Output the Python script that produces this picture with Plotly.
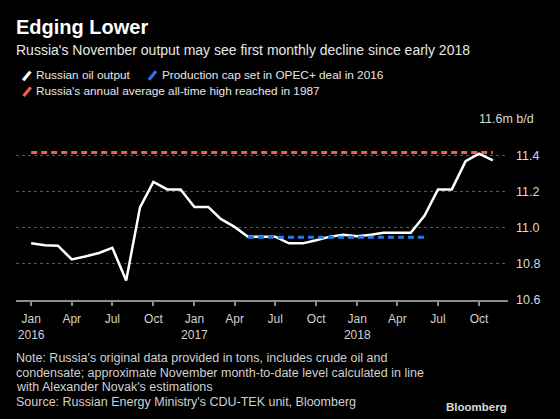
import plotly.graph_objects as go

# ---- data ----
months = [
    "2016-01-01", "2016-02-01", "2016-03-01", "2016-04-01", "2016-05-01", "2016-06-01",
    "2016-07-01", "2016-08-01", "2016-09-01", "2016-10-01", "2016-11-01", "2016-12-01",
    "2017-01-01", "2017-02-01", "2017-03-01", "2017-04-01", "2017-05-01", "2017-06-01",
    "2017-07-01", "2017-08-01", "2017-09-01", "2017-10-01", "2017-11-01", "2017-12-01",
    "2018-01-01", "2018-02-01", "2018-03-01", "2018-04-01", "2018-05-01", "2018-06-01",
    "2018-07-01", "2018-08-01", "2018-09-01", "2018-10-01", "2018-11-01",
]
russian_output = [
    10.913, 10.903, 10.900, 10.824, 10.840, 10.860, 10.888, 10.708, 11.112, 11.252, 11.211, 11.211,
    11.114, 11.114, 11.048, 11.004, 10.950, 10.950, 10.950, 10.913, 10.913, 10.930, 10.950, 10.961,
    10.952, 10.960, 10.971, 10.971, 10.971, 11.066, 11.211, 11.211, 11.367, 11.408, 11.371,
]
cap_dates = ["2017-05-01", "2018-06-01"]
cap_values = [10.947, 10.947]
high_dates = ["2016-01-01", "2018-11-01"]
high_values = [11.415, 11.415]

x_tickvals = [
    "2016-01-01", "2016-04-01", "2016-07-01", "2016-10-01",
    "2017-01-01", "2017-04-01", "2017-07-01", "2017-10-01",
    "2018-01-01", "2018-04-01", "2018-07-01", "2018-10-01",
]
x_ticktext = ["Jan<br>2016", "Apr", "Jul", "Oct", "Jan<br>2017", "Apr", "Jul", "Oct",
              "Jan<br>2018", "Apr", "Jul", "Oct"]
y_tickvals = [10.6, 10.8, 11.0, 11.2, 11.4, 11.6]
y_ticktext = ["10.6", "10.8", "11.0", "11.2", "11.4", ""]
y_top_label = "11.6m b/d"

series_names = ["Russian oil output", "Production cap set in OPEC+ deal in 2016",
                "Russia's annual average all-time high reached in 1987"]
series_colors = ["#ffffff", "#2a78e4", "#f0643a"]

# ---- layout geometry ----
W, H = 560, 419
L, R, T, B = 16, 52, 119, 119
PH = H - T - B
PW = W - L - R


def py(ypx):
    return (H - B - ypx) / PH


def px(xpx):
    return (xpx - L) / PW


FONT = "Liberation Sans"

fig = go.Figure()
fig.add_trace(go.Scatter(x=months, y=russian_output, mode="lines",
                         line=dict(color=series_colors[0], width=2.5),
                         name=series_names[0], showlegend=False))
fig.add_trace(go.Scatter(x=cap_dates, y=cap_values, mode="lines",
                         line=dict(color=series_colors[1], width=3, dash="6px,4px"),
                         name=series_names[1], showlegend=False))
fig.add_trace(go.Scatter(x=high_dates, y=high_values, mode="lines",
                         line=dict(color=series_colors[2], width=3, dash="6px,4px"),
                         name=series_names[2], showlegend=False))

annotations = []


def txt(text, x, y, size, color="#ffffff", bold=False, xanchor="left", yanchor="middle",
        family=FONT, **kw):
    if bold:
        text = "<b>" + text + "</b>"
    annotations.append(dict(text=text, x=px(x), y=py(y), xref="paper", yref="paper",
                            xanchor=xanchor, yanchor=yanchor, showarrow=False,
                            font=dict(family=family, size=size, color=color), **kw))


txt("Edging Lower", 14, 27, 20, bold=True)
txt("Russia's November output may see first monthly decline since early 2018", 14, 50, 14, color="#e6e6e6")

# legend (slanted line icons + labels)
icon = "\u2501"
txt(icon, 26.5, 75.5, 18, color=series_colors[0], xanchor="center", family="DejaVu Sans", textangle=-50)
txt(series_names[0], 34, 75, 11.8, color="#e6e6e6")
txt(icon, 152, 75.5, 18, color=series_colors[1], xanchor="center", family="DejaVu Sans", textangle=-50)
txt(series_names[1], 160, 75, 11.8, color="#e6e6e6")
txt(icon, 26.5, 91, 18, color=series_colors[2], xanchor="center", family="DejaVu Sans", textangle=-50)
txt(series_names[2], 34, 90.5, 11.8, color="#e6e6e6")

# top y label
annotations.append(dict(text=y_top_label, x=px(538), y=11.6, xref="paper", yref="y",
                        xanchor="right", yanchor="middle", showarrow=False,
                        bgcolor="#000000", borderpad=3,
                        font=dict(family=FONT, size=12.5, color="#d9d9d9")))

notes = [
    "Note: Russia's original data provided in tons, includes crude oil and",
    "condensate; approximate November month-to-date level calculated in line",
    "with Alexander Novak's estimations",
    "Source: Russian Energy Ministry's CDU-TEK unit, Bloomberg",
]
for i, line in enumerate(notes):
    txt(line, 14, 358 + i * 14.7, 12.5, color="#d0d0d0")

txt("Bloomberg", 509, 407, 11.5, color="#d9d9d9", bold=True, xanchor="right")

fig.update_layout(
    width=W, height=H,
    margin=dict(l=L, r=R, t=T, b=B),
    paper_bgcolor="#000000", plot_bgcolor="#000000",
    font=dict(family=FONT, color="#d0d0d0", size=12),
    showlegend=False,
    annotations=annotations,
    xaxis=dict(
        type="date", range=["2015-11-28", "2018-12-05"],
        tickvals=x_tickvals, ticktext=x_ticktext,
        showgrid=False, zeroline=False,
        showline=True, linecolor="#8c8c8c", linewidth=1.5,
        ticks="outside", ticklen=4, tickcolor="#8c8c8c", tickwidth=1.5,
        ticklabelstandoff=3,
        tickfont=dict(family=FONT, size=12, color="#d0d0d0"),
    ),
    yaxis=dict(
        range=[10.6, 11.6], side="right",
        tickvals=y_tickvals, ticktext=y_ticktext,
        showgrid=True, gridcolor="#5a5a5a", griddash="dot", gridwidth=1,
        zeroline=False, showline=False, ticks="",
        ticklabelstandoff=7,
        tickfont=dict(family=FONT, size=12.5, color="#d9d9d9"),
    ),
)

fig.write_html(
    "out.html",
    config={"displayModeBar": False},
    post_script="document.body.style.margin='0';document.body.style.background='#000';",
)
